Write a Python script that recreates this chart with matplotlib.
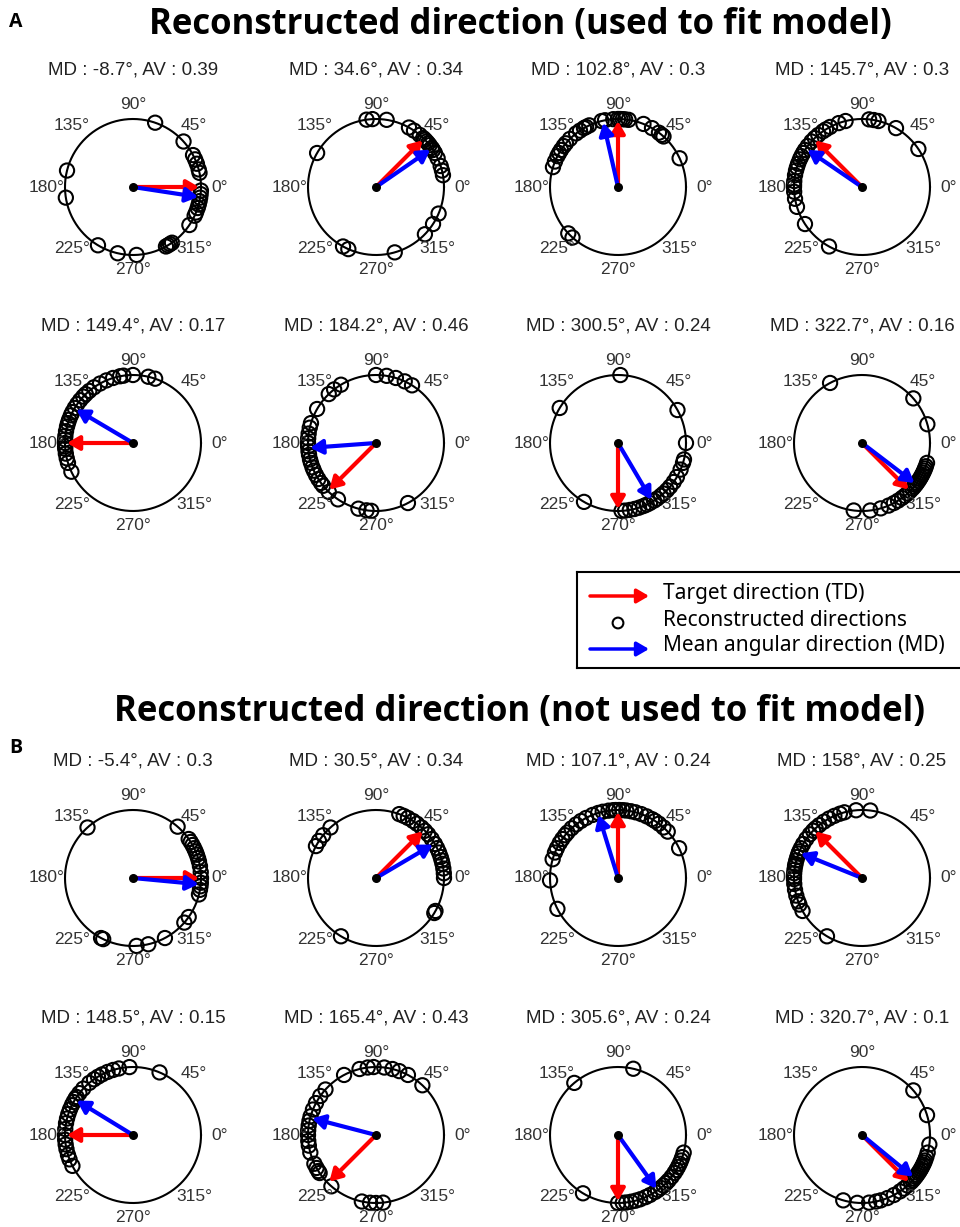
import numpy as np
import matplotlib
matplotlib.use('Agg')
from matplotlib import pyplot as plt

W, H = 960, 1227

# target directions (deg)
td_a = [0, 45, 90, 135, 180, 225, 270, 315]
td_b = [0, 45, 90, 135, 180, 225, 270, 315]

# mean angular direction and angular variance, as printed
md_a = [-8.7, 34.6, 102.8, 145.7, 149.4, 184.2, 300.5, 322.7]
av_a = ['0.39', '0.34', '0.3', '0.3', '0.17', '0.46', '0.24', '0.16']
md_b = [-5.4, 30.5, 107.1, 158, 148.5, 165.4, 305.6, 320.7]
av_b = ['0.3', '0.34', '0.24', '0.25', '0.15', '0.43', '0.24', '0.1']

# reconstructed directions (deg)
recon_a = [
    [71, 42, 28, 24, 20, 15, 12, -3, -6, -9, -12, -15, -18, -22, -25, -34, -55, -57, -59, -61, -87, -103, -121, 166, 189],
    [150, 93, 98, 81, 61, 56, 50, 46, 44, 42, 40, 38, 35, 33, 30, 25, 18, 14, 10, -23, -33, -44, -74, 241, 246],
    [25, 48, 50, 53, 60, 68, 81, 84, 86, 88, 90, 94, 101, 104, 115, 118, 120, 124, 128, 135, 140, 143, 147, 150, 153, 158, 163, 223, 228],
    [34, 60, 76, 80, 84, 104, 110, 118, 122, 125, 130, 134, 138, 143, 147, 150, 153, 156, 160, 163, 166, 170, 175, 178, 180, 184, 190, 197, 213, 241],
    [71, 77, 90, 98, 101, 107, 113, 119, 125, 130, 134, 137, 141, 145, 149, 153, 156, 160, 163, 166, 170, 174, 177, 180, 183, 185, 189, 193, 197, 205],
    [58, 65, 73, 81, 90, 121, 128, 134, 150, 163, 167, 172, 176, 180, 183, 187, 190, 194, 197, 201, 204, 208, 212, 216, 219, 226, 236, 255, 262, 266, 298],
    [0, 29, 88, 149, 240, 273, 276, 280, 284, 288, 292, 295, 298, 302, 305, 309, 312, 316, 320, 325, 330, 337, 343, 346],
    [16, 41, 118, 263, 277, 286, 293, 298, 302, 306, 309, 312, 315, 318, 320, 322, 324, 326, 328, 330, 332, 334, 336, 338, 340, 343],
]
recon_b = [
    [49, 132, 35, 32, 29, 26, 23, 20, 17, 14, 10, 5, 0, -4, -7, -10, -14, -35, -41, -62, -77, -87, 242, 244],
    [0, 4, 8, 12, 15, 18, 22, 26, 30, 35, 40, 44, 48, 53, 57, 62, 66, 70, 132, 141, 147, 152, 239, -29, -31],
    [26, 43, 48, 53, 57, 60, 65, 70, 75, 79, 83, 86, 89, 92, 94, 98, 103, 107, 112, 118, 123, 128, 133, 138, 141, 145, 149, 154, 158, 164, 182, 207],
    [83, 95, 105, 109, 114, 119, 124, 129, 133, 136, 140, 145, 150, 154, 157, 159, 162, 165, 168, 170, 173, 176, 179, 181, 185, 190, 195, 200, 203, 209, 239],
    [67, 93, 102, 107, 112, 117, 121, 125, 130, 137, 142, 146, 148, 151, 154, 158, 162, 166, 170, 175, 180, 184, 188, 192, 197, 201, 207],
    [47, 62, 70, 76, 83, 92, 97, 104, 118, 138, 145, 152, 158, 164, 168, 172, 176, 180, 185, 189, 195, 205, 209, 212, 214, 229, 258, 265, 270, 276],
    [77, 130, 239, 270, 274, 277, 281, 285, 289, 294, 298, 303, 306, 309, 312, 315, 318, 322, 326, 329, 332, 335, 338, 341, 345],
    [17, 41, 254, 266, 276, 282, 286, 292, 298, 304, 308, 312, 316, 318, 320, 322, 324, 326, 328, 330, 332, 334, 336, 338, 341, 345, 352],
]

tick_angles = [0, 45, 90, 135, 180, 225, 270, 315]
legend_labels = ['Target direction (TD)', 'Reconstructed directions', 'Mean angular direction (MD)']

col_x = [133, 376, 618, 862]
row_y_a = [187, 443]
row_y_b = [878, 1135]
R = 68  # circle radius in pixels

fig = plt.figure(figsize=(W / 100, H / 100), dpi=100)


def px_axes(x0, y0, w, h):
    return fig.add_axes([x0 / W, 1 - (y0 + h) / H, w / W, h / H])


def arrow(ax, ang, color, L=0.97):
    a = np.deg2rad(ang)
    ax.annotate('', xy=(L * np.cos(a), L * np.sin(a)), xytext=(0, 0),
                arrowprops=dict(arrowstyle='-|>,head_length=0.6,head_width=0.35',
                                color=color, lw=3, shrinkA=0, shrinkB=0,
                                mutation_scale=12))


def draw_panel(cx, cy, td, md, av, pts):
    half = 1.5 * R
    ax = px_axes(cx - half, cy - half, 2 * half, 2 * half)
    ax.set_xlim(-1.5, 1.5)
    ax.set_ylim(-1.5, 1.5)
    ax.set_aspect('equal')
    ax.axis('off')
    t = np.linspace(0, 2 * np.pi, 400)
    ax.plot(np.cos(t), np.sin(t), color='black', lw=1.5)
    p = np.deg2rad(np.array(pts))
    ax.scatter(np.cos(p), np.sin(p), s=105, facecolors='none', edgecolors='black',
               linewidths=1.5, zorder=3, clip_on=False)
    for ta in tick_angles:
        a = np.deg2rad(ta)
        r = 1.22 if ta in (90, 270) else 1.27
        ax.text(r * np.cos(a), r * np.sin(a), '%d°' % ta, ha='center', va='center',
                fontsize=12.5, color='#333333', family='Liberation Sans')
    arrow(ax, td, 'red')
    arrow(ax, md, 'blue')
    ax.scatter([0], [0], s=30, color='black', zorder=5)
    ax.text(0, 1.72, 'MD : %s°, AV : %s' % (('%g' % md), av), ha='center', va='center',
            fontsize=13.5, color='#222222', family='Liberation Sans')


for i in range(8):
    draw_panel(col_x[i % 4], row_y_a[i // 4], td_a[i], md_a[i], av_a[i], recon_a[i])
    draw_panel(col_x[i % 4], row_y_b[i // 4], td_b[i], md_b[i], av_b[i], recon_b[i])

title_font = ['Open Sans', 'DejaVu Sans']
fig.text(520 / W, 1 - 25 / H, 'Reconstructed direction (used to fit model)', ha='center', va='center',
         fontsize=25, fontweight='bold', family=title_font)
fig.text(520 / W, 1 - 712 / H, 'Reconstructed direction (not used to fit model)', ha='center', va='center',
         fontsize=25, fontweight='bold', family=title_font)
fig.text(16 / W, 1 - 22 / H, 'A', ha='center', va='center', fontsize=14, fontweight='bold', family=title_font)
fig.text(16 / W, 1 - 748 / H, 'B', ha='center', va='center', fontsize=14, fontweight='bold', family=title_font)

# legend box
lg = px_axes(577, 572, 385, 96)
lg.set_xlim(0, 385)
lg.set_ylim(96, 0)
lg.set_xticks([])
lg.set_yticks([])
for s in lg.spines.values():
    s.set_linewidth(1.5)
    s.set_color('black')
lg.annotate('', xy=(72, 24), xytext=(13, 24),
            arrowprops=dict(arrowstyle='-|>,head_length=0.6,head_width=0.35', color='red', lw=2.5,
                            shrinkA=0, shrinkB=0, mutation_scale=12))
lg.scatter([41], [51], s=60, facecolors='none', edgecolors='black', linewidths=1.5)
lg.annotate('', xy=(72, 77), xytext=(13, 77),
            arrowprops=dict(arrowstyle='-|>,head_length=0.6,head_width=0.35', color='blue', lw=2.5,
                            shrinkA=0, shrinkB=0, mutation_scale=12))
for y, txt in zip([22, 49, 74], legend_labels):
    lg.text(86, y, txt, ha='left', va='center', fontsize=15, family='Noto Sans')

fig.savefig('out.png', dpi=100)
